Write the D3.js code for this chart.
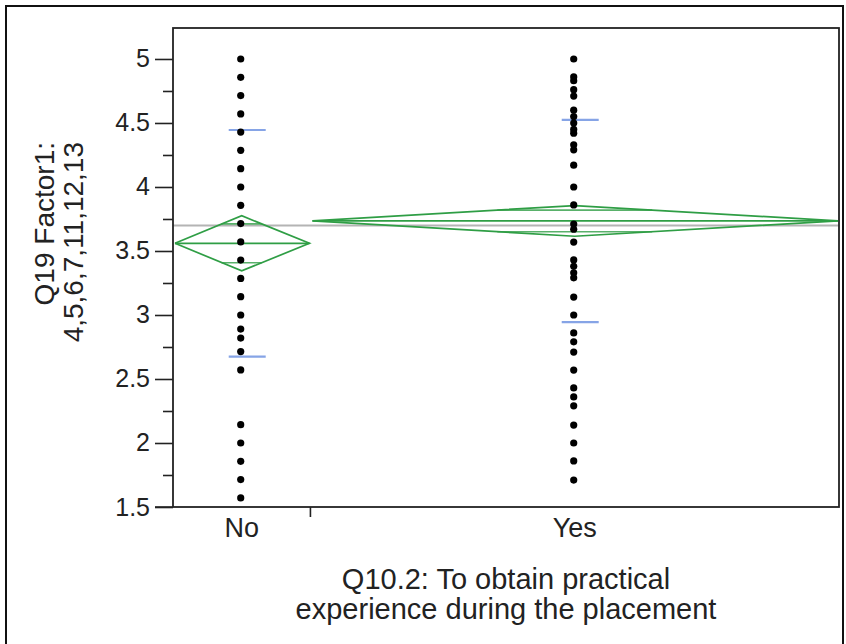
<!DOCTYPE html>
<html>
<head>
<meta charset="utf-8">
<script src="https://cdn.jsdelivr.net/npm/d3@7"></script>
<style>
  html, body { margin: 0; padding: 0; background: #fff; }
  svg text { font-family: "Liberation Sans", Arial, Helvetica, sans-serif; fill: #222; }
</style>
</head>
<body>
<svg id="chart" width="846" height="644"></svg>
<script>
// ---- data ----
const categories = ["No", "Yes"];
const groupCounts = [26, 100];            // relative group sizes (x widths)
const noValues = [5, 4.857, 4.714, 4.571, 4.429, 4.286, 4.143, 4.0, 3.857, 3.714, 3.571,
  3.429, 3.286, 3.143, 3.0, 2.89, 2.82, 2.714, 2.571, 2.143, 2.0, 1.857, 1.714, 1.571];
const yesValues = [5.0, 4.86, 4.83, 4.76, 4.71, 4.6, 4.55, 4.5, 4.45, 4.42, 4.33, 4.29,
  4.17, 4.0, 3.86, 3.71, 3.67, 3.57, 3.43, 3.38, 3.33, 3.29, 3.14, 3.0, 2.86, 2.79,
  2.71, 2.57, 2.43, 2.36, 2.29, 2.14, 2.0, 1.86, 1.71];
const groupMeans = [3.56, 3.735];
const groupCIHalf = [0.215, 0.12];
const groupSD = [0.885, 0.79];
const grandMean = 3.70;
const yTicks = [1.5, 2, 2.5, 3, 3.5, 4, 4.5, 5];
const yMinorTicks = [1.75, 2.25, 2.75, 3.25, 3.75, 4.25, 4.75];
const yTitleLines = ["Q19 Factor1:", "4,5,6,7,11,12,13"];
const xTitleLines = ["Q10.2: To obtain practical", "experience during the placement"];

// ---- layout ----
const svg = d3.select("#chart");
const plot = { left: 173, right: 839, top: 28, bottom: 507 };

const y = d3.scaleLinear().domain([1.5, 5.242]).range([plot.bottom, plot.top]);
const totalN = d3.sum(groupCounts);
const x = d3.scaleLinear().domain([0, totalN]).range([plot.left, plot.right]);
const cum = [0];
groupCounts.forEach((n, i) => cum.push(cum[i] + n));
const groups = categories.map((c, i) => ({
  name: c,
  x0: x(cum[i]), x1: x(cum[i + 1]),
  xc: x((cum[i] + cum[i + 1]) / 2),
  values: i === 0 ? noValues : yesValues,
  mean: groupMeans[i], ci: groupCIHalf[i], sd: groupSD[i]
}));

// outer border
svg.append("rect").attr("x", 6).attr("y", 6).attr("width", 837).attr("height", 660)
  .attr("fill", "none").attr("stroke", "#111").attr("stroke-width", 2);

// grand mean line
svg.append("line")
  .attr("x1", plot.left).attr("x2", plot.right)
  .attr("y1", y(grandMean)).attr("y2", y(grandMean))
  .attr("stroke", "#b4b4b4").attr("stroke-width", 2);

// means diamonds
const green = "#2f9e45";
groups.forEach(g => {
  const ym = y(g.mean), yt = y(g.mean + g.ci), yb = y(g.mean - g.ci);
  const dg = svg.append("g").attr("fill", "none").attr("stroke", green).attr("stroke-width", 1.7);
  dg.append("path").attr("d", d3.line()([[g.x0 + 2, ym], [g.xc, yt], [g.x1 - 1, ym], [g.xc, yb], [g.x0 + 2, ym]]));
  dg.append("line").attr("x1", g.x0 + 2).attr("x2", g.x1 - 1).attr("y1", ym).attr("y2", ym);
  // overlap marks
  const k = 1 / Math.SQRT2;
  const halfW = (g.x1 - g.x0) / 2 * (1 - k);
  [g.mean + g.ci * k, g.mean - g.ci * k].forEach(v => {
    dg.append("line").attr("x1", g.xc - halfW).attr("x2", g.xc + halfW)
      .attr("y1", y(v)).attr("y2", y(v)).attr("stroke-opacity", 0.8);
  });
});

// std dev lines
groups.forEach(g => {
  [g.mean + g.sd, g.mean - g.sd].forEach(v => {
    svg.append("line").attr("x1", g.xc - 13).attr("x2", g.xc + 24)
      .attr("y1", y(v)).attr("y2", y(v))
      .attr("stroke", "#86a4e6").attr("stroke-width", 2.2);
  });
});

// points
groups.forEach(g => {
  svg.append("g").selectAll("circle").data(g.values).join("circle")
    .attr("cx", g.xc - 1).attr("cy", d => y(d)).attr("r", 3.6).attr("fill", "#000");
});

// frame
svg.append("rect").attr("x", plot.left).attr("y", plot.top)
  .attr("width", plot.right - plot.left).attr("height", plot.bottom - plot.top)
  .attr("fill", "none").attr("stroke", "#222").attr("stroke-width", 1.8);

// y axis
const yAxis = svg.append("g").attr("transform", `translate(${plot.left},0)`)
  .call(d3.axisLeft(y).tickValues(yTicks).tickSize(18).tickPadding(5).tickFormat(d3.format("~g")));
yAxis.select(".domain").remove();
yAxis.selectAll(".tick line").attr("stroke", "#222").attr("stroke-width", 1.6);
yAxis.selectAll(".tick text").style("font-size", "25px").attr("fill", "#222");
const yMinor = svg.append("g").attr("transform", `translate(${plot.left},0)`)
  .call(d3.axisLeft(y).tickValues(yMinorTicks).tickSize(10).tickFormat(""));
yMinor.select(".domain").remove();
yMinor.selectAll(".tick line").attr("stroke", "#222").attr("stroke-width", 1.6);
// bottom-left tick extension
svg.append("line").attr("x1", plot.left - 18).attr("x2", plot.left)
  .attr("y1", plot.bottom).attr("y2", plot.bottom).attr("stroke", "#222").attr("stroke-width", 1.6);

// x axis: boundary ticks + labels
cum.slice(1, -1).forEach(c => {
  svg.append("line").attr("x1", x(c)).attr("x2", x(c))
    .attr("y1", plot.bottom).attr("y2", plot.bottom + 10)
    .attr("stroke", "#222").attr("stroke-width", 1.6);
});
groups.forEach(g => {
  svg.append("text").attr("x", g.xc).attr("y", 537).attr("text-anchor", "middle")
    .style("font-size", "27px").text(g.name);
});

// x title
xTitleLines.forEach((t, i) => {
  svg.append("text").attr("x", 506).attr("y", 589 + i * 30).attr("text-anchor", "middle")
    .style("font-size", "29px").text(t);
});

// y title
yTitleLines.forEach((t, i) => {
  svg.append("text")
    .attr("transform", `translate(${54 + i * 29},142) rotate(-90)`)
    .attr("text-anchor", "end")
    .style("font-size", "28px").text(t);
});
</script>
</body>
</html>
